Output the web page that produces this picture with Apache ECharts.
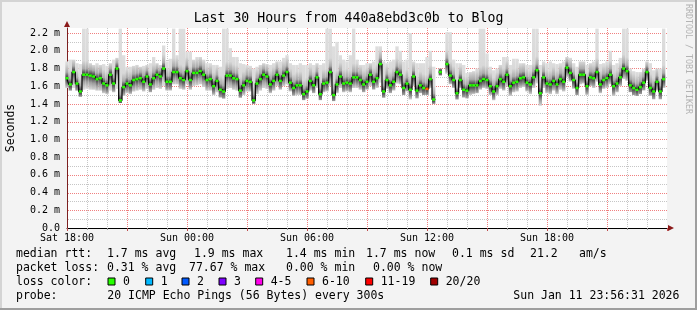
<!DOCTYPE html>
<html><head><meta charset="utf-8">
<script src="https://cdn.jsdelivr.net/npm/echarts@6/dist/echarts.min.js"></script>
<style>html,body{margin:0;padding:0;background:#f3f3f3}#c{width:697px;height:310px}</style>
</head><body><div id="c"></div>
<script>
// ---------- data ----------
const stepMinutes = 10; // one sample every 10 minutes from Sat 18:00
const median = [
1.69,1.62,1.76,1.63,1.54,1.73,1.73,1.72,1.71,1.68,1.69,1.63,1.61,1.73,1.63,1.80,1.44,1.59,1.63,1.61,1.67,1.68,1.69,1.65,1.71,1.62,1.69,1.73,1.71,1.80,
1.65,1.65,1.76,1.76,1.69,1.67,1.77,1.67,1.75,1.75,1.77,1.73,1.67,1.68,1.60,1.66,1.56,1.54,1.72,1.72,1.69,1.68,1.55,1.61,1.66,1.65,1.44,1.63,1.68,1.73,
1.71,1.62,1.66,1.73,1.66,1.72,1.76,1.64,1.58,1.61,1.61,1.51,1.54,1.66,1.61,1.70,1.51,1.63,1.64,1.76,1.50,1.62,1.71,1.63,1.64,1.63,1.70,1.70,1.67,1.62,
1.65,1.73,1.65,1.69,1.85,1.54,1.67,1.61,1.65,1.76,1.73,1.58,1.63,1.56,1.71,1.55,1.61,1.58,1.57,1.68,1.45,null,1.76,null,1.85,1.72,1.67,1.52,1.67,1.56,
1.55,1.61,1.61,1.61,1.66,1.68,1.67,1.60,1.54,1.60,1.68,1.65,1.73,1.60,1.64,1.65,1.69,1.70,1.64,1.62,1.70,1.78,1.52,1.70,1.63,1.62,1.66,1.62,1.68,1.65,
1.81,1.75,1.67,1.58,1.73,1.73,1.60,1.70,1.69,1.76,1.62,1.67,1.69,1.73,1.60,1.63,1.70,1.80,1.77,1.61,1.58,1.56,1.59,1.64,1.76,1.58,1.54,1.65,1.54,1.68
];
const smokeLow = [
1.58,1.55,1.58,1.55,1.48,1.56,1.57,1.56,1.56,1.55,1.55,1.52,1.51,1.55,1.53,1.57,1.41,1.49,1.52,1.51,1.54,1.55,1.56,1.54,1.57,1.53,1.56,1.58,1.57,1.60,
1.55,1.55,1.62,1.62,1.57,1.56,1.62,1.56,1.60,1.61,1.62,1.59,1.55,1.55,1.50,1.53,1.47,1.46,1.57,1.58,1.56,1.55,1.47,1.50,1.54,1.54,1.40,1.51,1.55,1.58,
1.57,1.52,1.55,1.60,1.56,1.60,1.62,1.54,1.49,1.50,1.50,1.44,1.46,1.55,1.52,1.58,1.44,1.53,1.54,1.60,1.43,1.52,1.58,1.53,1.54,1.53,1.58,1.58,1.56,1.53,
1.56,1.60,1.56,1.58,1.64,1.47,1.57,1.52,1.55,1.63,1.62,1.50,1.54,1.45,1.60,1.46,1.52,1.50,1.50,1.58,1.40,null,1.72,null,1.74,1.62,1.58,1.45,1.58,1.47,
1.46,1.50,1.51,1.52,1.56,1.58,1.57,1.50,1.44,1.50,1.57,1.55,1.60,1.49,1.53,1.54,1.58,1.59,1.54,1.51,1.58,1.63,1.38,1.58,1.52,1.51,1.55,1.51,1.56,1.54,
1.70,1.65,1.57,1.50,1.62,1.63,1.50,1.60,1.58,1.65,1.52,1.57,1.58,1.62,1.49,1.53,1.60,1.68,1.66,1.53,1.50,1.49,1.51,1.55,1.66,1.49,1.45,1.55,1.45,1.58
];
const smokeHigh = [
1.88,1.90,1.90,1.86,1.85,2.25,2.25,1.86,1.84,1.86,1.84,1.85,1.83,1.86,1.90,1.92,2.25,1.95,1.82,1.82,1.83,1.84,1.82,1.83,1.84,1.86,1.93,1.86,1.84,2.06,
1.88,1.91,2.25,1.95,2.25,2.25,1.99,1.99,1.90,1.93,1.93,1.90,1.86,1.86,1.84,1.84,1.82,2.25,2.25,2.03,1.93,1.93,1.86,1.85,1.84,1.83,1.80,1.82,1.84,1.86,
1.85,1.84,1.86,1.88,1.88,1.92,1.95,1.86,1.84,1.84,1.86,1.84,1.84,1.86,1.84,1.86,1.84,1.86,2.25,2.25,2.05,2.10,1.95,1.90,1.88,1.95,2.25,1.90,1.84,1.84,
1.86,1.86,1.88,2.05,2.05,1.88,1.86,1.88,1.90,2.05,2.00,1.88,1.90,2.20,1.88,1.86,1.86,1.86,1.93,2.00,1.82,null,1.80,null,2.21,2.21,1.90,1.86,1.86,1.84,
1.75,1.76,1.77,1.80,2.25,2.25,1.97,1.82,1.78,1.80,1.84,1.93,1.93,1.84,1.91,1.91,1.86,1.86,1.84,1.84,2.25,2.25,1.84,1.88,1.86,1.88,1.86,1.85,1.86,1.88,
1.93,1.92,1.86,1.82,1.88,1.88,1.84,1.86,1.88,2.25,1.85,1.86,1.88,2.00,1.84,1.86,1.92,2.25,2.25,1.80,1.77,1.76,1.76,1.80,1.88,1.86,1.78,1.80,1.80,2.25
];
// [sample index, pings lost out of 20]
const lossEvents = [[108, 7]];
const xTickLabels = ['Sat 18:00', 'Sun 00:00', 'Sun 06:00', 'Sun 12:00', 'Sun 18:00'];
const yTickLabels = ['0.0', '0.2 m', '0.4 m', '0.6 m', '0.8 m', '1.0 m', '1.2 m', '1.4 m', '1.6 m', '1.8 m', '2.0 m', '2.2 m'];
const lossBins = ['0', '1', '2', '3', '4-5', '6-10', '11-19', '20/20'];
const lossBinMax = [0, 1, 2, 3, 5, 10, 19, 20];
const lossColors = ['#26ff00', '#00b8ff', '#0059ff', '#7e00ff', '#ff00ea', '#ff5e00', '#ff0000', '#a00000'];
const titleText = 'Last 30 Hours from 440a8ebd3c0b to Blog';
const statRows = [
  ['median rtt:', '1.7 ms avg', '1.9 ms max', '1.4 ms min', '1.7 ms now', '0.1 ms sd', '21.2', 'am/s'],
  ['packet loss:', '0.31 % avg', '77.67 % max', '0.00 % min', '0.00 % now']
];
const lossRowLabel = 'loss color:';
const probeRow = ['probe:', '20 ICMP Echo Pings (56 Bytes) every 300s', 'Sun Jan 11 23:56:31 2026'];

// ---------- layout ----------
const mono = "'DejaVu Sans Mono', monospace";
const rowY = [254, 268, 282, 296];
const statX = [[16, 107, 194, 286, 366, 452, 530, 579], [16, 107, 189, 286, 373]];
const boxX = [108, 145.7, 182, 219, 255.7, 307, 365.7, 430.7];
const probeX = [16, 107.3, 513.3];
const majorGrid = '#f08080';
const minorGrid = '#c6c6c6';

function lossColorFor(lost) {
  for (let i = 0; i < lossBinMax.length; i++) if (lost <= lossBinMax[i]) return lossColors[i];
  return lossColors[lossColors.length - 1];
}
const lossMap = {};
lossEvents.forEach(([i, l]) => { lossMap[i] = l; });

const xs = median.map((_, i) => i * stepMinutes);
const smokeData = [];
xs.forEach((x, i) => { if (smokeLow[i] != null && smokeHigh[i] != null && median[i] != null) smokeData.push([x, smokeLow[i], smokeHigh[i], median[i]]); });
const medPoints = xs.map((x, i) => ({
  value: [x, median[i]],
  itemStyle: { color: lossColorFor(lossMap[i] || 0) }
}));

function renderSmoke(params, api) {
  const x = api.value(0), lo = api.value(1), hi = api.value(2), md = api.value(3);
  const pTop = api.coord([x - stepMinutes / 2, hi]);
  const pBot = api.coord([x + stepMinutes / 2, lo]);
  const pMed = api.coord([x, md]);
  const h = Math.max(1, pBot[1] - pTop[1]);
  const rel = y => Math.min(1, Math.max(0, (y - pTop[1]) / h));
  const stops = [
    [0, '#dedede'],
    [rel(pMed[1] - 14), '#d8d8d8'],
    [rel(pMed[1] - 6), '#aaaaaa'],
    [rel(pMed[1] - 2), '#555555'],
    [rel(pMed[1] + 2), '#555555'],
    [rel(pMed[1] + 7), '#a0a0a0'],
    [rel(pMed[1] + 13), '#d2d2d2'],
    [1, '#dedede']
  ].map(s => ({ offset: s[0], color: s[1] }));
  for (let i = 1; i < stops.length; i++) if (stops[i].offset < stops[i - 1].offset) stops[i].offset = stops[i - 1].offset;
  return {
    type: 'rect',
    shape: { x: pTop[0], y: pTop[1], width: pBot[0] - pTop[0], height: h },
    style: { fill: new echarts.graphic.LinearGradient(0, 0, 0, 1, stops) }
  };
}

// grid line positions (axis values); drawn through the axes' scales, snapped to pixels
const hGrid = [];
for (let i = 1; i <= 22; i++) hGrid.push([0, i / 10, i % 2 === 0 ? 1 : 0]);
const vGrid = [];
for (let m = 60; m < 1800; m += 60) vGrid.push([m, 0, m % 180 === 0 ? 1 : 0]);

function renderHGrid(params, api) {
  const cs = params.coordSys;
  const p = api.coord([0, api.value(1)]);
  const y = Math.round(p[1]) + 0.5;
  return { type: 'line', shape: { x1: cs.x + 1, y1: y, x2: cs.x + cs.width, y2: y },
    style: { stroke: api.value(2) ? majorGrid : minorGrid, lineWidth: 1, lineDash: [1, 1] } };
}
function renderVGrid(params, api) {
  const cs = params.coordSys;
  const p = api.coord([api.value(0), 0]);
  const x = Math.round(p[0]) + 0.5;
  return { type: 'line', shape: { x1: x, y1: cs.y, x2: x, y2: cs.y + cs.height },
    style: { stroke: api.value(2) ? majorGrid : minorGrid, lineWidth: 1, lineDash: [1, 1] } };
}

const graphic = [];
const txt = (x, y, s, extra) => graphic.push(Object.assign({
  type: 'text', x, y, silent: true,
  style: Object.assign({ text: s, font: '11.5px ' + mono, fill: '#000', textVerticalAlign: 'middle' }, extra || {})
}));
// frame
graphic.push({ type: 'line', shape: { x1: 0, y1: 1, x2: 697, y2: 1 }, style: { stroke: '#d4d4d4', lineWidth: 2 } });
graphic.push({ type: 'line', shape: { x1: 1, y1: 0, x2: 1, y2: 310 }, style: { stroke: '#d4d4d4', lineWidth: 2 } });
graphic.push({ type: 'line', shape: { x1: 0, y1: 309, x2: 697, y2: 309 }, style: { stroke: '#9e9e9e', lineWidth: 2 } });
graphic.push({ type: 'line', shape: { x1: 696, y1: 0, x2: 696, y2: 310 }, style: { stroke: '#9e9e9e', lineWidth: 2 } });
// title
graphic.push({ type: 'text', x: 348.5, y: 19, style: { text: titleText, font: '13.2px ' + mono, fill: '#000', textAlign: 'center', textVerticalAlign: 'middle' } });
// y name
graphic.push({ type: 'text', x: 11, y: 128, rotation: Math.PI / 2, style: { text: 'Seconds', font: '11.5px ' + mono, fill: '#000', textAlign: 'center', textVerticalAlign: 'middle' } });
// watermark
graphic.push({ type: 'text', x: 688, y: 59, rotation: -Math.PI / 2, style: { text: 'RRDTOOL / TOBI OETIKER', font: '8.3px ' + mono, fill: '#b3b3b3', textAlign: 'center', textVerticalAlign: 'middle' } });
// arrows
graphic.push({ type: 'polygon', z: 100, shape: { points: [[64, 27], [70, 27], [67, 21]] }, style: { fill: '#8b1a1a' } });
graphic.push({ type: 'polygon', z: 100, shape: { points: [[668, 225], [668, 231], [674, 228]] }, style: { fill: '#8b1a1a' } });
// stats rows
statRows.forEach((row, r) => row.forEach((s, j) => txt(statX[r][j], rowY[r], s)));
txt(16, rowY[2], lossRowLabel);
lossBins.forEach((lab, i) => {
  graphic.push({ type: 'rect', shape: { x: boxX[i], y: 278, width: 7, height: 7 }, style: { fill: lossColors[i], stroke: '#000', lineWidth: 1 } });
  txt(boxX[i] + 15, rowY[2], lab);
});
probeRow.forEach((s, j) => txt(probeX[j], rowY[3], s));

const option = {
  animation: false,
  backgroundColor: '#f3f3f3',
  grid: { left: 67, right: 30, top: 28, bottom: 82, show: true, backgroundColor: '#ffffff', borderWidth: 0 },
  xAxis: [{
    type: 'value', min: 0, max: 1800, interval: 180,
    axisLine: { show: true, onZero: false, lineStyle: { color: '#000', width: 1 } },
    axisTick: { show: true, length: 3, lineStyle: { color: '#c05050' } },
    minorTick: { show: true, splitNumber: 3, length: 2, lineStyle: { color: '#999' } },
    splitLine: { show: false },
    axisLabel: {
      margin: 5, fontFamily: mono, fontSize: 10, color: '#000',
      formatter: v => (v % 360 === 0 && xTickLabels[v / 360]) ? xTickLabels[v / 360] : ''
    }
  }],
  yAxis: [{
    type: 'value', min: 0, max: 2.257, interval: 0.2,
    axisLine: { show: true, onZero: false, lineStyle: { color: '#7d2020', width: 1 } },
    axisTick: { show: false },
    splitLine: { show: false },
    axisLabel: {
      margin: 7, fontFamily: mono, fontSize: 10, color: '#000',
      formatter: v => { const r = Math.round(v / 0.2); return Math.abs(v - r * 0.2) < 1e-6 && yTickLabels[r] ? yTickLabels[r] : ''; }
    }
  }],
  graphic: graphic,
  series: [
    { type: 'custom', data: hGrid, renderItem: renderHGrid, encode: { x: 0, y: 1 }, silent: true, z: 1, clip: false },
    { type: 'custom', data: vGrid, renderItem: renderVGrid, encode: { x: 0, y: 1 }, silent: true, z: 1, clip: false },
    { type: 'custom', data: smokeData, renderItem: renderSmoke, encode: { x: 0, y: [1, 2] }, silent: true, z: 2 },
    { type: 'line', data: medPoints, step: 'middle', symbol: 'rect', symbolSize: [3, 2.5], showSymbol: true, showAllSymbol: true,
      itemStyle: { borderWidth: 0 }, lineStyle: { width: 1.2, color: '#000' }, connectNulls: false, silent: true, z: 5 }
  ]
};
const chart = echarts.init(document.getElementById('c'), null, { renderer: 'canvas' });
chart.setOption(option);
</script>
</body></html>
